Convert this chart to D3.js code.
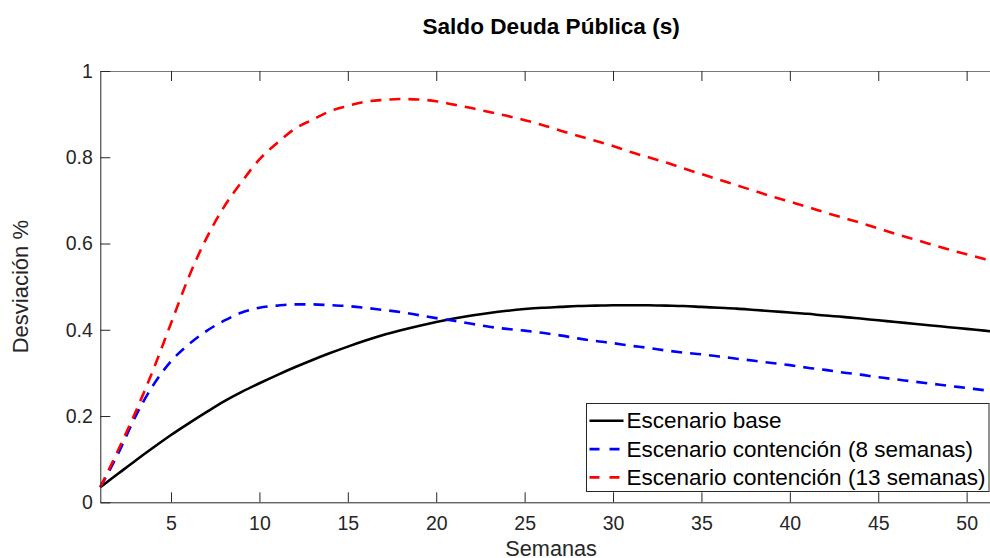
<!DOCTYPE html>
<html>
<head>
<meta charset="utf-8">
<script src="https://cdn.jsdelivr.net/npm/d3@7"></script>
<style>
  html, body { margin: 0; padding: 0; background: #fff; }
  svg { display: block; font-family: "Liberation Sans", Arial, Helvetica, sans-serif; }
</style>
</head>
<body>
<svg id="chart" width="990" height="558"></svg>
<script>
// Semanas 1..52
const weeks = d3.range(1, 53);

// Escenario base
const base = [0.035, 0.066, 0.097, 0.127, 0.156, 0.183, 0.209, 0.234, 0.256, 0.276,
  0.295, 0.313, 0.330, 0.346, 0.361, 0.375, 0.388, 0.399, 0.409, 0.418,
  0.426, 0.433, 0.439, 0.444, 0.448, 0.451, 0.453, 0.455, 0.456, 0.457,
  0.457, 0.457, 0.456, 0.455, 0.453, 0.451, 0.449, 0.446, 0.443, 0.440,
  0.437, 0.433, 0.430, 0.426, 0.422, 0.418, 0.414, 0.410, 0.406, 0.402,
  0.398, 0.394];

// Escenario contención (8 semanas)
const cont8 = [0.035, 0.112, 0.200, 0.272, 0.327, 0.366, 0.397, 0.421, 0.440, 0.451,
  0.456, 0.459, 0.459, 0.457, 0.455, 0.451, 0.446, 0.441, 0.434, 0.427,
  0.421, 0.414, 0.407, 0.402, 0.398, 0.393, 0.387, 0.380, 0.374, 0.369,
  0.363, 0.358, 0.352, 0.347, 0.343, 0.338, 0.333, 0.328, 0.323, 0.318,
  0.312, 0.307, 0.301, 0.296, 0.290, 0.285, 0.280, 0.275, 0.270, 0.265,
  0.260, 0.255];

// Escenario contención (13 semanas)
const cont13 = [0.035, 0.120, 0.210, 0.308, 0.415, 0.522, 0.612, 0.685, 0.743, 0.795,
  0.833, 0.866, 0.887, 0.907, 0.919, 0.929, 0.933, 0.935, 0.934, 0.930,
  0.922, 0.914, 0.905, 0.896, 0.886, 0.875, 0.862, 0.850, 0.838, 0.826,
  0.812, 0.800, 0.788, 0.774, 0.761, 0.748, 0.735, 0.722, 0.709, 0.697,
  0.685, 0.672, 0.660, 0.648, 0.635, 0.622, 0.610, 0.598, 0.586, 0.575,
  0.564, 0.554];

const seriesNames = ["Escenario base", "Escenario contención (8 semanas)", "Escenario contención (13 semanas)"];
const seriesColors = ["#000000", "#0000ff", "#ff0000"];
const seriesDash = [null, "11,8", "11,8"];
const seriesValues = [base, cont8, cont13];

const xTicks = [5, 10, 15, 20, 25, 30, 35, 40, 45, 50];
const yTicks = [0, 0.2, 0.4, 0.6, 0.8, 1];
const yTickLabels = ["0", "0.2", "0.4", "0.6", "0.8", "1"];

const titleText = "Saldo Deuda Pública (s)";
const xLabel = "Semanas";
const yLabel = "Desviación %";

// Plot frame
const frame = { left: 100.3, right: 1002, top: 71, bottom: 502.3 };
const axisColor = "#262626";
const fontFamily = "'Liberation Sans', Arial, Helvetica, sans-serif";

const svg = d3.select("#chart");
const x = d3.scaleLinear().domain([1, 52]).range([frame.left, frame.right]);
const y = d3.scaleLinear().domain([0, 1]).range([frame.bottom, frame.top]);

// Series lines
const line = d3.line().x((d, i) => x(weeks[i])).y(d => y(d)).curve(d3.curveMonotoneX);
const plot = svg.append("g");
seriesValues.forEach((vals, k) => {
  plot.append("path")
    .datum(vals)
    .attr("d", line)
    .attr("fill", "none")
    .attr("stroke", seriesColors[k])
    .attr("stroke-width", 2.6)
    .attr("stroke-dasharray", seriesDash[k]);
});

// Axes (ticks drawn inward)
const xAxisB = d3.axisBottom(x).tickValues(xTicks).tickSizeInner(-10).tickSizeOuter(0).tickPadding(14);
const xAxisT = d3.axisTop(x).tickValues(xTicks).tickSizeInner(-10).tickSizeOuter(0).tickFormat("");
const yAxisL = d3.axisLeft(y).tickValues(yTicks).tickSizeInner(-10).tickSizeOuter(0).tickPadding(7.5)
  .tickFormat((d, i) => yTickLabels[i]);

function styleAxis(g, color) {
  g.select(".domain").attr("stroke", color).attr("stroke-width", 1);
  g.selectAll(".tick line").attr("stroke", axisColor).attr("stroke-width", 1);
  g.selectAll(".tick text").attr("fill", axisColor).attr("font-size", 19.5)
    .attr("font-family", fontFamily);
}

svg.append("g").attr("transform", `translate(0,${frame.bottom})`).call(xAxisB).call(g => styleAxis(g, axisColor));
svg.append("g").attr("transform", `translate(0,${frame.top})`).call(xAxisT).call(g => styleAxis(g, "#7a7a7a"));
svg.append("g").attr("transform", `translate(${frame.left},0)`).call(yAxisL).call(g => styleAxis(g, axisColor));

// Title
svg.append("text")
  .attr("x", (frame.left + frame.right) / 2).attr("y", 33.5)
  .attr("text-anchor", "middle")
  .attr("font-size", 22.6).attr("font-weight", "bold").attr("fill", "#000")
  .text(titleText);

// Axis labels
svg.append("text")
  .attr("x", (frame.left + frame.right) / 2).attr("y", 556)
  .attr("text-anchor", "middle")
  .attr("font-size", 21.7).attr("fill", axisColor)
  .text(xLabel);

svg.append("text")
  .attr("transform", `translate(27.8,${(frame.top + frame.bottom) / 2}) rotate(-90)`)
  .attr("text-anchor", "middle")
  .attr("font-size", 22).attr("fill", axisColor)
  .text(yLabel);

// Legend
const lg = svg.append("g");
const lgX = 586.5, lgY = 403.5, lgW = 402.5, lgH = 88, rowH = 28.3;
lg.append("rect")
  .attr("x", lgX).attr("y", lgY).attr("width", lgW).attr("height", lgH)
  .attr("fill", "#fff").attr("stroke", axisColor).attr("stroke-width", 1);
seriesNames.forEach((name, k) => {
  const cy = lgY + 17.3 + k * rowH;
  lg.append("line")
    .attr("x1", lgX + 3).attr("x2", lgX + 37)
    .attr("y1", cy).attr("y2", cy)
    .attr("stroke", seriesColors[k]).attr("stroke-width", 2.6)
    .attr("stroke-dasharray", seriesDash[k] ? "10,10" : null);
  lg.append("text")
    .attr("x", lgX + 40).attr("y", cy + 7.5)
    .attr("font-size", 22.5).attr("fill", "#000")
    .text(name);
});
</script>
</body>
</html>
